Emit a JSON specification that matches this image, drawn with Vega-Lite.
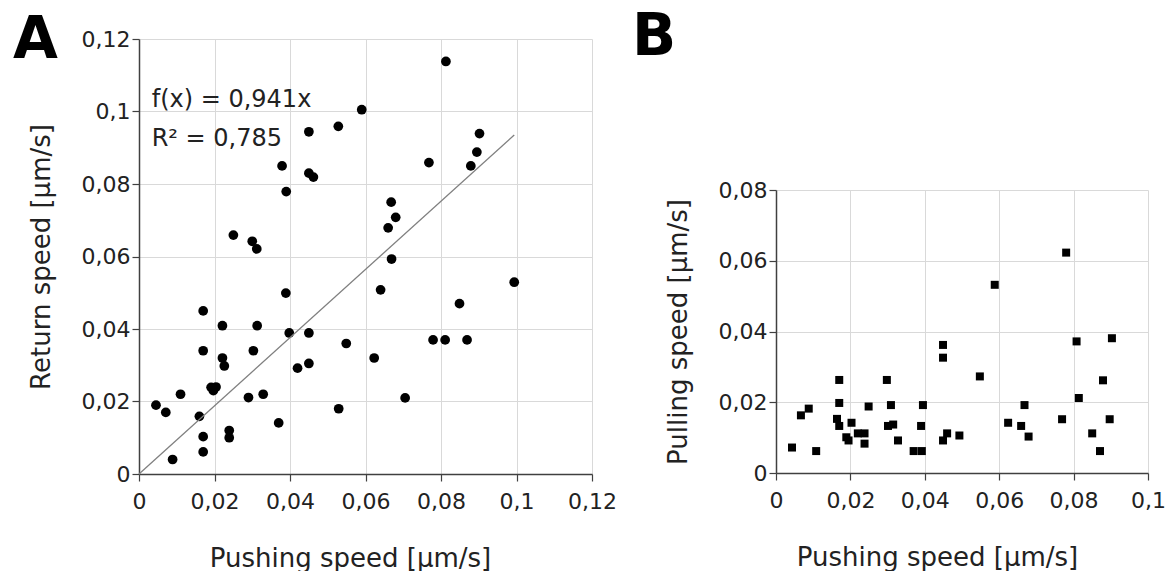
{
  "$schema": "https://vega.github.io/schema/vega-lite/v6.json",
  "padding": {"left": 13, "top": 9, "right": 5, "bottom": 0},
  "background": "white",
  "spacing": 15,
  "config": {
    "view": {"stroke": null},
    "axis": {
      "domainColor": "#404040", "domainWidth": 1.5,
      "tickColor": "#404040", "tickSize": 7, "tickWidth": 1.2,
      "gridColor": "#d9d9d9", "gridWidth": 1,
      "labelFont": "DejaVu Sans", "labelFontSize": 22, "labelColor": "#222",
      "titleFont": "DejaVu Sans", "titleFontSize": 26, "titleFontWeight": "normal", "titleColor": "#222"
    }
  },
  "hconcat": [
    {
      "width": 453, "height": 435,
      "title": {"text": "A", "anchor": "start", "frame": "group", "fontSize": 58, "fontWeight": "bold", "font": "DejaVu Sans", "color": "#000", "dx": -126, "offset": -42},
      "layer": [
        {
          "data": {"values": [
            {"x": 0.059, "y": 0.1005}, {"x": 0.0528, "y": 0.0959}, {"x": 0.045, "y": 0.0944}, {"x": 0.0379, "y": 0.085},
            {"x": 0.045, "y": 0.083}, {"x": 0.0462, "y": 0.0819}, {"x": 0.039, "y": 0.0779}, {"x": 0.025, "y": 0.0659},
            {"x": 0.03, "y": 0.0642}, {"x": 0.0312, "y": 0.0621}, {"x": 0.0813, "y": 0.1138}, {"x": 0.0902, "y": 0.0939},
            {"x": 0.0895, "y": 0.0888}, {"x": 0.0879, "y": 0.085}, {"x": 0.0768, "y": 0.0859}, {"x": 0.0668, "y": 0.075},
            {"x": 0.068, "y": 0.0708}, {"x": 0.066, "y": 0.0679}, {"x": 0.0669, "y": 0.0593}, {"x": 0.0389, "y": 0.0499},
            {"x": 0.017, "y": 0.045}, {"x": 0.0221, "y": 0.0409}, {"x": 0.0313, "y": 0.0409}, {"x": 0.0398, "y": 0.0389},
            {"x": 0.045, "y": 0.0389}, {"x": 0.0549, "y": 0.036}, {"x": 0.017, "y": 0.034}, {"x": 0.0303, "y": 0.034},
            {"x": 0.0221, "y": 0.032}, {"x": 0.0226, "y": 0.0298}, {"x": 0.045, "y": 0.0305}, {"x": 0.042, "y": 0.0292},
            {"x": 0.0191, "y": 0.0239}, {"x": 0.0204, "y": 0.024}, {"x": 0.0197, "y": 0.023}, {"x": 0.011, "y": 0.022},
            {"x": 0.029, "y": 0.0211}, {"x": 0.0329, "y": 0.022}, {"x": 0.0045, "y": 0.019}, {"x": 0.0071, "y": 0.017},
            {"x": 0.016, "y": 0.0159}, {"x": 0.0529, "y": 0.018}, {"x": 0.037, "y": 0.0141}, {"x": 0.0239, "y": 0.012},
            {"x": 0.0239, "y": 0.01}, {"x": 0.017, "y": 0.0103}, {"x": 0.017, "y": 0.0061}, {"x": 0.0089, "y": 0.004},
            {"x": 0.064, "y": 0.0508}, {"x": 0.0994, "y": 0.0529}, {"x": 0.0849, "y": 0.047}, {"x": 0.0779, "y": 0.037},
            {"x": 0.0811, "y": 0.037}, {"x": 0.0869, "y": 0.037}, {"x": 0.0623, "y": 0.032}, {"x": 0.0705, "y": 0.021}
          ]},
          "mark": {"type": "point", "shape": "circle", "filled": true, "size": 95, "color": "#000", "opacity": 1},
          "encoding": {
            "x": {"field": "x", "type": "quantitative",
              "scale": {"domain": [0, 0.12], "nice": false},
              "axis": {"values": [0, 0.02, 0.04, 0.06, 0.08, 0.1, 0.12], "labelExpr": "replace(format(datum.value, '~g'), '.', ',')", "title": "Pushing speed [µm/s]", "labelPadding": 10, "titlePadding": 33, "titleX": 211, "labelFlush": false}},
            "y": {"field": "y", "type": "quantitative",
              "scale": {"domain": [0, 0.12], "nice": false},
              "axis": {"values": [0, 0.02, 0.04, 0.06, 0.08, 0.1, 0.12], "labelExpr": "replace(format(datum.value, '~g'), '.', ',')", "title": "Return speed [µm/s]", "labelPadding": 2, "titlePadding": 27}}
          }
        },
        {
          "data": {"values": [{"x": 0, "y": 0}, {"x": 0.0994, "y": 0.0935}]},
          "mark": {"type": "line", "color": "#808080", "strokeWidth": 1.3},
          "encoding": {
            "x": {"field": "x", "type": "quantitative"},
            "y": {"field": "y", "type": "quantitative"}
          }
        },
        {
          "data": {"values": [{"label": "f(x) = 0,941x"}]},
          "mark": {"type": "text", "font": "DejaVu Sans", "fontSize": 24, "align": "left", "baseline": "alphabetic", "color": "#222"},
          "encoding": {"x": {"datum": 0.00336}, "y": {"datum": 0.1012}, "text": {"field": "label"}}
        },
        {
          "data": {"values": [{"label": "R² = 0,785"}]},
          "mark": {"type": "text", "font": "DejaVu Sans", "fontSize": 24, "align": "left", "baseline": "alphabetic", "color": "#222"},
          "encoding": {"x": {"datum": 0.00336}, "y": {"datum": 0.0905}, "text": {"field": "label"}}
        }
      ]
    },
    {
      "spacing": 10,
      "vconcat": [
        {
          "width": 372, "height": 130,
          "title": {"text": "B", "anchor": "start", "frame": "group", "fontSize": 58, "fontWeight": "bold", "font": "DejaVu Sans", "color": "#000", "dx": -144, "offset": -28},
          "data": {"values": [{}]},
          "mark": {"type": "point", "opacity": 0}
        },
        {
          "width": 372, "height": 283,
          "data": {"values": [
            {"x": 0.0043, "y": 0.0072}, {"x": 0.0067, "y": 0.0163}, {"x": 0.0088, "y": 0.0182}, {"x": 0.0108, "y": 0.0062},
            {"x": 0.017, "y": 0.0263}, {"x": 0.017, "y": 0.0198}, {"x": 0.0164, "y": 0.0153}, {"x": 0.017, "y": 0.0133},
            {"x": 0.0189, "y": 0.0101}, {"x": 0.0195, "y": 0.0092}, {"x": 0.0203, "y": 0.0142}, {"x": 0.022, "y": 0.0112},
            {"x": 0.0238, "y": 0.0112}, {"x": 0.0238, "y": 0.0083}, {"x": 0.0249, "y": 0.0188}, {"x": 0.0298, "y": 0.0263},
            {"x": 0.0309, "y": 0.0192}, {"x": 0.0301, "y": 0.0133}, {"x": 0.0315, "y": 0.0137}, {"x": 0.0328, "y": 0.0092},
            {"x": 0.037, "y": 0.0062}, {"x": 0.0392, "y": 0.0062}, {"x": 0.039, "y": 0.0133}, {"x": 0.0395, "y": 0.0192},
            {"x": 0.0449, "y": 0.0362}, {"x": 0.0449, "y": 0.0326}, {"x": 0.0449, "y": 0.0092}, {"x": 0.046, "y": 0.0112},
            {"x": 0.0493, "y": 0.0106}, {"x": 0.0548, "y": 0.0273}, {"x": 0.0588, "y": 0.0532}, {"x": 0.078, "y": 0.0623},
            {"x": 0.0808, "y": 0.0372}, {"x": 0.0903, "y": 0.0381}, {"x": 0.0879, "y": 0.0262}, {"x": 0.0814, "y": 0.0212},
            {"x": 0.0668, "y": 0.0192}, {"x": 0.0624, "y": 0.0142}, {"x": 0.0659, "y": 0.0133}, {"x": 0.0679, "y": 0.0103},
            {"x": 0.0769, "y": 0.0152}, {"x": 0.0897, "y": 0.0152}, {"x": 0.085, "y": 0.0112}, {"x": 0.0871, "y": 0.0062}
          ]},
          "mark": {"type": "point", "shape": "square", "filled": true, "size": 64, "color": "#000", "opacity": 1},
          "encoding": {
            "x": {"field": "x", "type": "quantitative",
              "scale": {"domain": [0, 0.1], "nice": false},
              "axis": {"values": [0, 0.02, 0.04, 0.06, 0.08, 0.1], "labelExpr": "replace(format(datum.value, '~g'), '.', ',')", "title": "Pushing speed [µm/s]", "labelPadding": 10, "titlePadding": 33, "titleX": 161, "labelFlush": false}},
            "y": {"field": "y", "type": "quantitative",
              "scale": {"domain": [0, 0.08], "nice": false},
              "axis": {"values": [0, 0.02, 0.04, 0.06, 0.08], "labelExpr": "replace(format(datum.value, '~g'), '.', ',')", "title": "Pulling speed [µm/s]", "labelPadding": 2, "titlePadding": 27}}
          }
        }
      ]
    }
  ]
}
